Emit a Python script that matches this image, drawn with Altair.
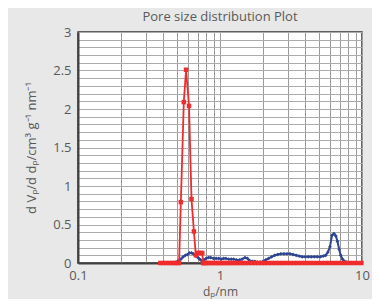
import altair as alt
import pandas as pd

red_x = [0.38, 0.40, 0.42, 0.44, 0.46, 0.48, 0.50, 0.515, 0.53, 0.556, 0.577, 0.605, 0.63, 0.655, 0.676, 0.69, 0.71, 0.73, 0.75, 0.76,
         0.77, 0.79, 0.81, 0.84, 0.87, 0.90, 0.93, 0.97, 1.0, 1.04, 1.08, 1.12, 1.17, 1.22, 1.27, 1.33, 1.39, 1.45, 1.52, 1.6,
         1.68, 1.77, 1.86, 1.96, 2.07, 2.19, 2.32, 2.46, 2.61, 2.77, 2.94, 3.12, 3.32, 3.53, 3.76, 4.0, 4.26, 4.54, 4.84, 5.16,
         5.5, 5.87, 6.26, 6.68, 7.13, 7.61, 8.12, 8.67, 9.26, 9.9]
red_y = [0, 0, 0, 0, 0, 0, 0, 0, 0.79, 2.09, 2.51, 2.04, 0.83, 0.41, 0.10, 0.13, 0.13, 0.13, 0.13, 0,
         0, 0, 0, 0, 0, 0, 0, 0, 0, 0, 0, 0, 0, 0, 0, 0, 0, 0, 0, 0,
         0, 0, 0, 0, 0, 0, 0, 0, 0, 0, 0, 0, 0, 0, 0, 0, 0, 0, 0, 0,
         0, 0, 0, 0, 0, 0, 0, 0, 0, 0]

blue_x = [0.47, 0.49, 0.51, 0.53, 0.55, 0.57, 0.59, 0.61, 0.63, 0.65, 0.67, 0.69, 0.71, 0.73, 0.75, 0.77, 0.80, 0.83, 0.86,
          0.90, 0.94, 0.98, 1.02, 1.06, 1.10, 1.15, 1.20, 1.25, 1.31, 1.37, 1.43, 1.50, 1.56, 1.62, 1.69, 1.76, 1.84, 1.92,
          2.01, 2.10, 2.20, 2.31, 2.43, 2.55, 2.68, 2.82, 2.96, 3.11, 3.27, 3.44, 3.61, 3.79, 3.98, 4.18, 4.39, 4.61, 4.84,
          5.08, 5.33, 5.55, 5.75, 5.95, 6.15, 6.35, 6.55, 6.72, 6.90, 7.08, 7.30, 7.55, 7.80, 8.05]
blue_y = [0.00, 0.01, 0.03, 0.05, 0.08, 0.10, 0.11, 0.13, 0.13, 0.12, 0.10, 0.08, 0.06, 0.04, 0.03, 0.04, 0.06, 0.07, 0.07,
          0.06, 0.06, 0.06, 0.05, 0.06, 0.06, 0.05, 0.05, 0.05, 0.04, 0.04, 0.05, 0.07, 0.06, 0.03, 0.02, 0.02, 0.01, 0.01,
          0.02, 0.04, 0.06, 0.08, 0.10, 0.11, 0.12, 0.12, 0.12, 0.12, 0.11, 0.10, 0.09, 0.08, 0.08, 0.08, 0.08, 0.08, 0.08,
          0.08, 0.09, 0.10, 0.14, 0.21, 0.36, 0.38, 0.35, 0.28, 0.18, 0.10, 0.05, 0.02, 0.01, 0.00]

x_ticks = [0.1, 0.2, 0.3, 0.4, 0.5, 0.6, 0.7, 0.8, 0.9, 1, 2, 3, 4, 5, 6, 7, 8, 9, 10]
x_labels = [0.1, 1, 10]
y_ticks = [0, 0.1, 0.2, 0.3, 0.4, 0.5, 0.6, 0.7, 0.8, 0.9, 1, 1.1, 1.2, 1.3, 1.4, 1.5, 1.6, 1.7, 1.8, 1.9,
           2, 2.1, 2.2, 2.3, 2.4, 2.5, 2.6, 2.7, 2.8, 2.9, 3]
y_labels = [0, 0.5, 1, 1.5, 2, 2.5, 3]

red = pd.DataFrame({"d": red_x, "v": red_y})
blue = pd.DataFrame({"d": blue_x, "v": blue_y})

FONT = "Open Sans"
TXT = "#595959"
RED = "#ef2b2b"
BLUE = "#2e4592"

xscale = alt.Scale(type="log", domain=[0.1, 10], nice=False)
yscale = alt.Scale(domain=[0, 3], nice=False)

xenc = alt.X("d:Q", scale=xscale, axis=alt.Axis(
    values=x_ticks, tickCount=100, format="~g", labelOverlap=False,
    labelExpr="indexof(%s, datum.value) >= 0 ? datum.label : ''" % str(x_labels),
    title="dₚ/nm", grid=True, gridColor="#9a9a9a", gridWidth=1, ticks=False,
    domainColor="#404040", domainWidth=2, labelPadding=6, titlePadding=4,
    labelFont=FONT, titleFont=FONT, labelFontSize=13, titleFontSize=12,
    labelColor=TXT, titleColor=TXT, titleFontWeight="normal", labelFlush=False))
yenc = alt.Y("v:Q", scale=yscale, axis=alt.Axis(
    values=y_ticks, tickCount=100, format="~g", labelOverlap=False,
    labelExpr="indexof(%s, datum.value) >= 0 ? datum.label : ''" % str(y_labels),
    title="d Vₚ/d dₚ/cm³ g⁻¹ nm⁻¹", grid=True, gridColor="#ababab", gridWidth=1, ticks=False,
    domainColor="#404040", domainWidth=2, labelPadding=7, titlePadding=14,
    labelFont=FONT, titleFont=FONT, labelFontSize=13, titleFontSize=13,
    labelColor=TXT, titleColor=TXT, titleFontWeight="normal", labelFlush=False))

blue_line = alt.Chart(blue).mark_line(color=BLUE, strokeWidth=2).encode(x=xenc, y=yenc)
blue_pts = alt.Chart(blue).mark_point(shape="diamond", filled=True, color=BLUE, size=14, opacity=1).encode(x="d:Q", y="v:Q")
red_line = alt.Chart(red).mark_line(color=RED, strokeWidth=1.8).encode(x="d:Q", y="v:Q")
red_pts = alt.Chart(red).mark_point(shape="square", filled=True, color=RED, size=20, opacity=1).encode(x="d:Q", y="v:Q")

chart = alt.layer(blue_line, blue_pts, red_line, red_pts).properties(
    width=284, height=231,
    title=alt.TitleParams("Pore size distribution Plot", font=FONT, fontSize=13, color=TXT,
                          fontWeight="normal", offset=2),
    autosize=alt.AutoSizeParams(type="none"),
    padding={"left": 70, "top": 24, "right": 10, "bottom": 36},
    background="#e8e8e8",
).configure_view(fill="white", stroke="#333333", strokeWidth=1.5)

chart.save("out.html", embed_options={"renderer": "svg", "actions": False})
